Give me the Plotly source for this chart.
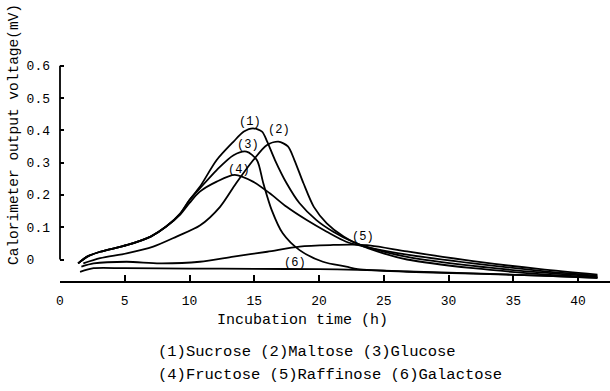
import plotly.graph_objects as go

# ---- data ----
x_sucrose = [1.4, 2.1, 3.1, 5.2, 7.0, 8.2, 9.3, 10.0, 10.8, 12.1, 13.4, 14.2, 14.9, 15.6, 16.0, 16.6, 17.5, 18.5, 19.8, 21.1, 22.6, 24.0, 26.8, 31.9, 37.1, 41.5]
y_sucrose = [-0.012, 0.009, 0.024, 0.045, 0.071, 0.102, 0.143, 0.184, 0.225, 0.308, 0.365, 0.396, 0.406, 0.396, 0.365, 0.308, 0.236, 0.174, 0.122, 0.086, 0.055, 0.035, 0.008, -0.02, -0.04, -0.053]

x_maltose = [1.8, 3.1, 5.15, 7.2, 9.0, 10.8, 12.36, 13.6, 14.93, 15.96, 16.86, 17.6, 18.1, 18.8, 19.6, 20.6, 21.9, 22.9, 24.5, 26.8, 31.9, 37.1, 41.5]
y_maltose = [-0.012, 0.004, 0.019, 0.04, 0.071, 0.105, 0.163, 0.236, 0.308, 0.354, 0.365, 0.35, 0.308, 0.236, 0.163, 0.112, 0.071, 0.05, 0.025, 0.0, -0.027, -0.045, -0.055]

x_glucose = [1.4, 2.1, 3.1, 5.2, 7.0, 8.2, 9.3, 10.0, 10.8, 12.1, 13.4, 14.4, 15.2, 15.7, 16.35, 17.2, 18.5, 20.3, 22.1, 23.0, 26.8, 31.9, 37.1, 41.5]
y_glucose = [-0.012, 0.009, 0.024, 0.045, 0.071, 0.102, 0.143, 0.184, 0.22, 0.277, 0.323, 0.334, 0.308, 0.236, 0.153, 0.081, 0.029, -0.007, -0.022, -0.03, -0.038, -0.044, -0.05, -0.057]

x_fructose = [1.4, 2.1, 3.1, 5.2, 7.0, 8.2, 9.3, 10.0, 10.8, 12.1, 13.5, 14.9, 16.2, 17.5, 19.05, 20.6, 22.1, 23.5, 26.8, 31.9, 37.1, 41.5]
y_fructose = [-0.012, 0.009, 0.024, 0.045, 0.071, 0.102, 0.14, 0.175, 0.21, 0.241, 0.262, 0.241, 0.205, 0.163, 0.122, 0.086, 0.055, 0.04, 0.015, -0.012, -0.035, -0.05]

x_raffinose = [1.65, 2.6, 5.15, 7.7, 10.8, 13.4, 16.0, 18.5, 21.1, 22.6, 24.0, 26.8, 31.9, 37.1, 41.5]
y_raffinose = [-0.022, -0.012, -0.007, -0.012, -0.007, 0.009, 0.024, 0.04, 0.045, 0.046, 0.043, 0.025, -0.005, -0.03, -0.047]

x_galactose = [1.55, 2.6, 5.0, 10.0, 15.0, 20.0, 23.0, 26.8, 31.9, 37.1, 41.5]
y_galactose = [-0.038, -0.027, -0.027, -0.028, -0.029, -0.03, -0.032, -0.037, -0.043, -0.05, -0.057]

series = [
    ("(1)", x_sucrose, y_sucrose),
    ("(2)", x_maltose, y_maltose),
    ("(3)", x_glucose, y_glucose),
    ("(4)", x_fructose, y_fructose),
    ("(5)", x_raffinose, y_raffinose),
    ("(6)", x_galactose, y_galactose),
]

# curve label positions (data coords)
label_text = ["(1)", "(2)", "(3)", "(4)", "(5)", "(6)"]
label_x = [14.67, 16.9, 14.55, 13.8, 23.4, 18.15]
label_y = [0.427, 0.401, 0.355, 0.277, 0.071, -0.010]

x_ticks = [0, 5, 10, 15, 20, 25, 30, 35, 40]
y_ticks = [0, 0.1, 0.2, 0.3, 0.4, 0.5, 0.6]
y_tick_text = ["0\u00a0\u00a0", "0.1", "0.2", "0.3", "0.4", "0.5", "0.6"]

legend_line1 = "(1)Sucrose (2)Maltose (3)Glucose"
legend_line2 = "(4)Fructose (5)Raffinose (6)Galactose"
x_title = "Incubation time (h)"
y_title = "Calorimeter output voltage(mV)"

FONT = "Liberation Mono, Courier New, monospace"

W, H = 610, 391
ML, MR, MT, MB = 60, 0, 59, 110
PW, PH = W - ML - MR, H - MT - MB


def px2paper(px, py):
    return (px - ML) / PW, (H - MB - py) / PH


fig = go.Figure()
for name, xs, ys in series:
    fig.add_trace(go.Scatter(
        x=xs, y=ys, mode="lines", name=name,
        line=dict(color="black", width=1.8, shape="spline", smoothing=0.8),
        showlegend=False, hoverinfo="skip",
    ))

annotations = []
for t, lx, ly in zip(label_text, label_x, label_y):
    annotations.append(dict(x=lx, y=ly, xref="x", yref="y", text=t, showarrow=False,
                            xanchor="center", yanchor="middle",
                            font=dict(family=FONT, size=12, color="black")))

ax, ay = px2paper(302, 320)
annotations.append(dict(x=ax, y=ay, xref="paper", yref="paper", text=x_title, showarrow=False,
                        xanchor="center", yanchor="middle",
                        font=dict(family=FONT, size=15, color="black")))
ax, ay = px2paper(14, 135)
annotations.append(dict(x=ax, y=ay, xref="paper", yref="paper", text=y_title, showarrow=False,
                        xanchor="center", yanchor="middle",
                        textangle=-90, font=dict(family=FONT, size=14.5, color="black")))
ax, ay = px2paper(156, 352)
annotations.append(dict(x=ax, y=ay, xref="paper", yref="paper", text=legend_line1, showarrow=False,
                        xanchor="left", yanchor="middle",
                        font=dict(family=FONT, size=15.5, color="black")))
ax, ay = px2paper(156, 375)
annotations.append(dict(x=ax, y=ay, xref="paper", yref="paper", text=legend_line2, showarrow=False,
                        xanchor="left", yanchor="middle",
                        font=dict(family=FONT, size=15.5, color="black")))

fig.update_layout(
    width=W, height=H,
    margin=dict(l=ML, r=MR, t=MT, b=MB, pad=0),
    paper_bgcolor="white", plot_bgcolor="white",
    xaxis=dict(range=[0, PW / 12.95], tickvals=x_ticks, ticktext=[str(v) for v in x_ticks],
               showgrid=False, zeroline=False, showline=True, linecolor="black", linewidth=1.8,
               ticks="inside", ticklen=6, tickwidth=1.8, tickcolor="black",
               ticklabelstandoff=6,
               tickfont=dict(family=FONT, size=13, color="black")),
    yaxis=dict(range=[-(281 - 259.5) / 323, -(281 - 259.5) / 323 + PH / 323],
               tickvals=y_ticks, ticktext=y_tick_text,
               showgrid=False, zeroline=False, showline=False,
               ticks="inside", ticklen=4, tickwidth=1.8, tickcolor="black",
               ticklabelstandoff=9,
               tickfont=dict(family=FONT, size=13, color="black")),
    shapes=[dict(type="line", xref="paper", yref="y", x0=0, x1=0, y0=0, y1=0.6,
                 line=dict(color="black", width=1.8))],
    annotations=annotations,
)

fig.write_html("out.html")
